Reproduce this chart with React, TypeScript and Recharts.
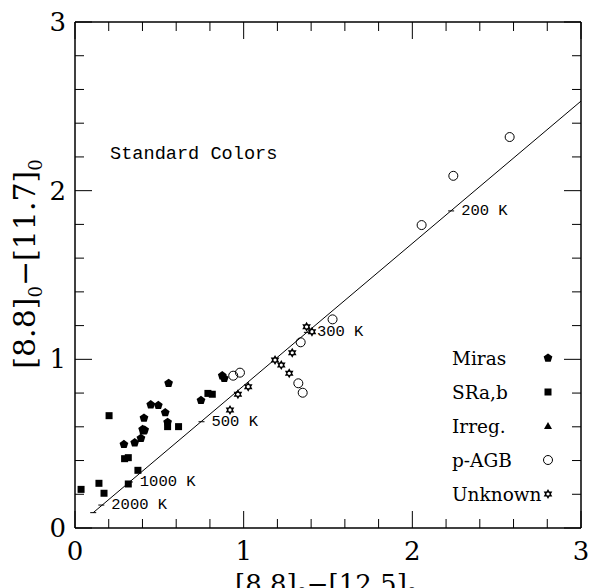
import React from 'react';
import { Legend, Scatter, ScatterChart, XAxis, YAxis } from 'recharts';

// observed colours, [8.8]0-[12.5]0 (x) vs [8.8]0-[11.7]0 (y)
const MIRAS_X = [0.29, 0.354, 0.391, 0.401, 0.413, 0.409, 0.449, 0.494, 0.535, 0.549, 0.555, 0.747, 0.873, 0.885];
const MIRAS_Y = [0.496, 0.506, 0.532, 0.585, 0.581, 0.652, 0.731, 0.727, 0.684, 0.627, 0.858, 0.757, 0.903, 0.887];
const SRAB_X = [0.036, 0.142, 0.172, 0.202, 0.294, 0.316, 0.373, 0.316, 0.405, 0.549, 0.614, 0.788, 0.814];
const SRAB_Y = [0.229, 0.265, 0.206, 0.666, 0.411, 0.417, 0.342, 0.261, 0.575, 0.601, 0.601, 0.798, 0.793];
const IRREG_X: number[] = [];
const IRREG_Y: number[] = [];
const PAGB_X = [0.938, 0.978, 1.324, 1.338, 1.35, 1.527, 2.055, 2.243, 2.577];
const PAGB_Y = [0.903, 0.921, 0.858, 1.101, 0.802, 1.237, 1.796, 2.088, 2.318];
const UNKNOWN_X = [0.919, 0.966, 1.027, 1.186, 1.223, 1.27, 1.288, 1.373, 1.405];
const UNKNOWN_Y = [0.7, 0.793, 0.838, 0.996, 0.966, 0.917, 1.039, 1.193, 1.164];

// blackbody line and its temperature marks
const FIT_X = [0.108, 3];
const FIT_Y = [0.091, 2.531];
const TEMP_LABELS = ['', '2000 K', '1000 K', '500 K', '300 K', '200 K'];
const TEMP_X = [0.108, 0.156, 0.325, 0.75, 1.375, 2.23];
const TEMP_Y = [0.091, 0.136, 0.273, 0.63, 1.16, 1.88];

const AXIS_TICKS = [0, 0.2, 0.4, 0.6, 0.8, 1, 1.2, 1.4, 1.6, 1.8, 2, 2.2, 2.4, 2.6, 2.8, 3];
const MAJOR_TICKS = [0, 1, 2, 3];
const LEGEND_NAMES = ['Miras', 'SRa,b', 'Irreg.', 'p-AGB', 'Unknown'];

const zip = (xs: number[], ys: number[]) => xs.map((x, i) => ({ x, y: ys[i] }));

const SERIF = 'DejaVu Serif';
const MONO = 'Liberation Mono';

function pentagon(cx: number, cy: number, r: number) {
  const pts = [0, 1, 2, 3, 4].map((k) => {
    const a = -Math.PI / 2 + (k * 2 * Math.PI) / 5;
    return `${cx + r * Math.cos(a)},${cy + r * Math.sin(a)}`;
  });
  return <polygon points={pts.join(' ')} fill="#000" />;
}

function star(cx: number, cy: number, r: number) {
  const pts = Array.from({ length: 12 }, (_, k) => {
    const a = -Math.PI / 2 + (k * Math.PI) / 6;
    const rr = k % 2 === 0 ? r : r * 0.58;
    return `${cx + rr * Math.cos(a)},${cy + rr * Math.sin(a)}`;
  });
  return (
    <g>
      <polygon points={pts.join(' ')} fill="#000" />
      <circle cx={cx} cy={cy} r={r * 0.32} fill="#fff" />
    </g>
  );
}

const MARKERS: Record<string, (cx: number, cy: number) => React.ReactElement> = {
  Miras: (cx, cy) => pentagon(cx, cy, 4.6),
  'SRa,b': (cx, cy) => <rect x={cx - 3.5} y={cy - 3.5} width={7} height={7} fill="#000" />,
  'Irreg.': (cx, cy) => <polygon points={`${cx},${cy - 4} ${cx + 4},${cy + 3} ${cx - 4},${cy + 3}`} fill="#000" />,
  'p-AGB': (cx, cy) => <circle cx={cx} cy={cy} r={4.5} fill="none" stroke="#000" strokeWidth={1} />,
  Unknown: (cx, cy) => star(cx, cy, 5),
};

const marker = (name: string) => (p: any) => MARKERS[name](p.cx, p.cy);

const isMajor = (v: number) => MAJOR_TICKS.some((m) => Math.abs(m - v) < 1e-6);

function makeTick(side: 'bottom' | 'top' | 'left' | 'right') {
  return (props: any) => {
    const { x, y, payload } = props;
    const v = payload.value as number;
    const len = isMajor(v) ? 17 : 9;
    const stroke = { stroke: '#000', strokeWidth: 1 };
    if (side === 'bottom') {
      return (
        <g>
          <line x1={x} x2={x} y1={y} y2={y - len} {...stroke} />
          {isMajor(v) && (
            <text x={x} y={y + 32} textAnchor="middle" fontFamily={SERIF} fontSize={26}>
              {Math.round(v)}
            </text>
          )}
        </g>
      );
    }
    if (side === 'top') return <line x1={x} x2={x} y1={y} y2={y + len} {...stroke} />;
    if (side === 'left') {
      return (
        <g>
          <line x1={x} x2={x + len} y1={y} y2={y} {...stroke} />
          {isMajor(v) && (
            <text x={x - 9} y={y} textAnchor="end" dominantBaseline="central" fontFamily={SERIF} fontSize={26}>
              {Math.round(v)}
            </text>
          )}
        </g>
      );
    }
    return <line x1={x} x2={x - len} y1={y} y2={y} {...stroke} />;
  };
}

const TempMark = (p: any) => (
  <g>
    <line x1={p.cx - 3} x2={p.cx + 3} y1={p.cy} y2={p.cy} stroke="#000" strokeWidth={1} />
    <text x={p.cx + 10} y={p.cy} dominantBaseline="central" fontFamily={MONO} fontSize={15.5}>
      {p.payload.label}
    </text>
  </g>
);

const renderLegend = () => (
  <div style={{ fontFamily: SERIF, fontSize: 18.5, color: '#000' }}>
    {LEGEND_NAMES.map((name) => (
      <div key={name} style={{ display: 'flex', alignItems: 'center', height: 34 }}>
        <span style={{ width: 90, whiteSpace: 'nowrap' }}>{name}</span>
        <svg width={12} height={12} style={{ overflow: 'visible' }}>
          {MARKERS[name](6, 6)}
        </svg>
      </div>
    ))}
  </div>
);

const axisLine = { stroke: '#000', strokeWidth: 1.5 };

export default function App() {
  const temps = TEMP_X.map((x, i) => ({ x, y: TEMP_Y[i], label: TEMP_LABELS[i] }));
  return (
    <div style={{ position: 'absolute', left: 0, top: 0, background: '#fff' }}>
      <ScatterChart width={590} height={588} margin={{ top: 21, right: 8, bottom: 59, left: 74 }}>
        <XAxis type="number" dataKey="x" domain={[0, 3]} ticks={AXIS_TICKS} interval={0} height={1}
          tickSize={0} tickMargin={0} tickLine={false} axisLine={axisLine} tick={makeTick('bottom')} allowDataOverflow />
        <XAxis xAxisId="top" orientation="top" type="number" dataKey="x" domain={[0, 3]} ticks={AXIS_TICKS} interval={0}
          height={1} tickSize={0} tickMargin={0} tickLine={false} axisLine={axisLine} tick={makeTick('top')} allowDataOverflow />
        <YAxis type="number" dataKey="y" domain={[0, 3]} ticks={AXIS_TICKS} interval={0} width={1}
          tickSize={0} tickMargin={0} tickLine={false} axisLine={axisLine} tick={makeTick('left')} allowDataOverflow />
        <YAxis yAxisId="right" orientation="right" type="number" dataKey="y" domain={[0, 3]} ticks={AXIS_TICKS} interval={0}
          width={1} tickSize={0} tickMargin={0} tickLine={false} axisLine={axisLine} tick={makeTick('right')} allowDataOverflow />

        <Scatter data={[]} xAxisId="top" yAxisId="right" legendType="none" isAnimationActive={false} />
        <Scatter data={zip(FIT_X, FIT_Y)} line={{ stroke: '#000', strokeWidth: 1 }} shape={() => <g />}
          legendType="none" isAnimationActive={false} />
        <Scatter data={temps} shape={TempMark} legendType="none" isAnimationActive={false} />

        <Scatter name="Miras" data={zip(MIRAS_X, MIRAS_Y)} shape={marker('Miras')} isAnimationActive={false} />
        <Scatter name="SRa,b" data={zip(SRAB_X, SRAB_Y)} shape={marker('SRa,b')} isAnimationActive={false} />
        <Scatter name="Irreg." data={zip(IRREG_X, IRREG_Y)} shape={marker('Irreg.')} isAnimationActive={false} />
        <Scatter name="p-AGB" data={zip(PAGB_X, PAGB_Y)} shape={marker('p-AGB')} isAnimationActive={false} />
        <Scatter name="Unknown" data={zip(UNKNOWN_X, UNKNOWN_Y)} shape={marker('Unknown')} isAnimationActive={false} />

        <Legend layout="vertical" align="center" verticalAlign="middle" content={renderLegend}
          wrapperStyle={{ left: 452, top: 341, width: 120 }} />

        <text x={110} y={159} fontFamily={MONO} fontSize={18.6}>Standard Colors</text>
        <text x={326} y={593} textAnchor="middle" fontFamily={SERIF} fontSize={26}>
          [8.8]<tspan fontSize={16} dy={6}>0</tspan>
          <tspan dy={-6}>−[12.5]</tspan>
          <tspan fontSize={16} dy={6}>0</tspan>
        </text>
        <text x={35} y={264} transform="rotate(-90 35 264)" textAnchor="middle" fontFamily={SERIF} fontSize={30}>
          [8.8]<tspan fontSize={18} dy={7}>0</tspan>
          <tspan dy={-7}>−[11.7]</tspan>
          <tspan fontSize={18} dy={7}>0</tspan>
        </text>
      </ScatterChart>
    </div>
  );
}
